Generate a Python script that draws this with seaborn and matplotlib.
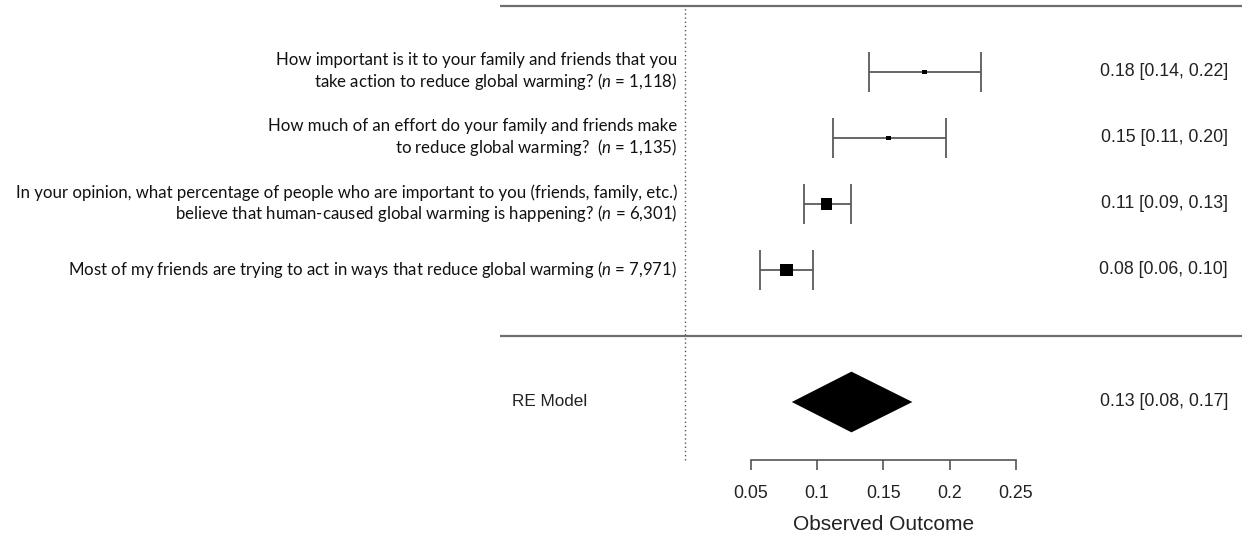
import matplotlib
matplotlib.use("Agg")
import matplotlib.pyplot as plt
import numpy as np
import pandas as pd
import seaborn as sns

# Study items (top to bottom), sample sizes and effect estimates with 95% CIs
questions = [
    "How important is it to your family and friends that you\ntake action to reduce global warming? ($\\it{n}$ = 1,118)",
    "How much of an effort do your family and friends make\nto reduce global warming?  ($\\it{n}$ = 1,135)",
    "In your opinion, what percentage of people who are important to you (friends, family, etc.)\nbelieve that human-caused global warming is happening? ($\\it{n}$ = 6,301)",
    "Most of my friends are trying to act in ways that reduce global warming ($\\it{n}$ = 7,971)",
]
sample_n = [1118, 1135, 6301, 7971]
estimate = [0.181, 0.154, 0.107, 0.077]
ci_lower = [0.139, 0.112, 0.090, 0.057]
ci_upper = [0.224, 0.197, 0.126, 0.097]

# Random-effects summary
re_label = "RE Model"
re_estimate = 0.126
re_lower = 0.081
re_upper = 0.172

x_ticks = [0.05, 0.1, 0.15, 0.2, 0.25]
x_tick_labels = ["0.05", "0.1", "0.15", "0.2", "0.25"]
x_title = "Observed Outcome"

sns.set_theme(style="white")
plt.rcParams["font.family"] = ["Liberation Sans", "DejaVu Sans"]
plt.rcParams["mathtext.fontset"] = "custom"
plt.rcParams["mathtext.it"] = "Lato:italic"
plt.rcParams["mathtext.rm"] = "Lato"

W, H = 1242, 536
fig = plt.figure(figsize=(W / 100, H / 100), dpi=100)
ax = fig.add_axes([0, 0, 1, 1])

# horizontal scale: 1325 px per unit, zero at x=684.5 px
px_per_unit = 1325.0
x0_px = 684.5
ax.set_xlim(-x0_px / px_per_unit, (W - x0_px) / px_per_unit)
# vertical scale: rows one unit apart (66 px), row 4 at y=72 px
row_px = 66.0
ax.set_ylim(4 - (H - 72) / row_px, 4 + 72 / row_px)

k = len(estimate)
rows = list(range(k, 0, -1))
line_col = "#5a5a5a"

df = pd.DataFrame({"question": questions, "n": sample_n, "est": estimate,
                   "lo": ci_lower, "hi": ci_upper, "row": rows})

# confidence intervals with end caps
ax.hlines(df["row"], df["lo"], df["hi"], color=line_col, lw=1.3, zorder=2)
ax.vlines(df["lo"], df["row"] - 0.31, df["row"] + 0.31, color=line_col, lw=1.3, zorder=2)
ax.vlines(df["hi"], df["row"] - 0.31, df["row"] + 0.31, color=line_col, lw=1.3, zorder=2)

# point estimates, square size scaled by sample size
sns.scatterplot(data=df, x="est", y="row", size="n", sizes=(12, 80), marker="s",
                color="black", edgecolor="none", legend=False, ax=ax, zorder=3)

# summary diamond
dh = 0.46
ax.fill([re_lower, re_estimate, re_upper, re_estimate],
        [-1, -1 + dh, -1, -1 - dh], color="black", lw=0, zorder=3)

# separator lines and reference line at zero
sep_left = (500 - x0_px) / px_per_unit
ax.hlines([k + 1, 0], sep_left, ax.get_xlim()[1], color="#6e6e6e", lw=1.6, zorder=1)
axis_y = 4 - (460 - 72) / row_px
ax.vlines(0, axis_y, k + 1, color="#555555", lw=1.0, linestyles=(0, (1, 2)), zorder=1)

# labels on the left
lab_x = (677 - x0_px) / px_per_unit
for q, r in zip(df["question"], df["row"]):
    ax.text(lab_x, r, q, ha="right", va="center", multialignment="right",
            family="Lato", fontsize=12.1, color="#111111", linespacing=1.15)
ax.text((512 - x0_px) / px_per_unit, -1, re_label, ha="left", va="center",
        fontsize=12.3, color="#222222")

# estimate annotations on the right
ann_x = (1228 - x0_px) / px_per_unit
for e, lo, hi, r in zip(df["est"], df["lo"], df["hi"], df["row"]):
    ax.text(ann_x, r, f"{e:.2f} [{lo:.2f}, {hi:.2f}]", ha="right", va="center",
            fontsize=12.8, color="#222222")
ax.text(ann_x, -1, f"{re_estimate:.2f} [{re_lower:.2f}, {re_upper:.2f}]",
        ha="right", va="center", fontsize=12.8, color="#222222")

# x axis
for s in ["top", "left", "right"]:
    ax.spines[s].set_visible(False)
ax.spines["bottom"].set_position(("data", axis_y))
ax.spines["bottom"].set_bounds(x_ticks[0], x_ticks[-1])
ax.spines["bottom"].set_color("#555555")
ax.spines["bottom"].set_linewidth(1.2)
ax.set_xticks(x_ticks)
ax.set_xticklabels(x_tick_labels)
ax.tick_params(axis="x", bottom=True, direction="out", length=7.2, width=1.2,
               color="#555555", labelsize=12.8, labelcolor="#222222", pad=10.5)
ax.set_yticks([])
ax.set_xlabel(x_title, fontsize=15, color="#222222")
ax.xaxis.label.set_va("center")
ax.xaxis.set_label_coords(0.15, 4 - (525 - 72) / row_px, transform=ax.transData)
ax.grid(False)

fig.savefig("out.png", dpi=100)
